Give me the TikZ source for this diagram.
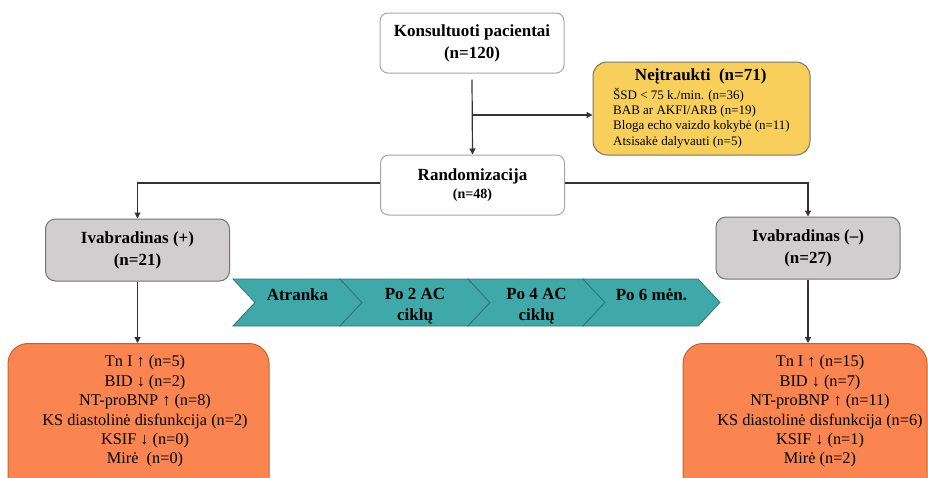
\documentclass[tikz,border=0pt]{standalone}
\usepackage{fontspec}
\setmainfont{Liberation Serif}
\usetikzlibrary{arrows.meta}
\definecolor{boxgray}{HTML}{D0CECE}
\definecolor{boxyellow}{HTML}{F8CF5A}
\definecolor{boxorange}{HTML}{FA8550}
\definecolor{edgeorange}{HTML}{C4622D}
\definecolor{phaseteal}{HTML}{3FA9A9}
\definecolor{edgeteal}{HTML}{2C7777}
\tikzset{
    flow/.style = {line width = 1.2pt, draw = black!80, -{Triangle[length = 6pt, width = 6pt]}},
    plainbox/.style = {draw = black!35, line width = 1pt, rounded corners = 8pt,
        minimum width = 184pt, minimum height = 60pt, align = center,
        font = \fontsize{17}{22}\selectfont\bfseries},
    groupbox/.style = {plainbox, draw = black!55, fill = boxgray, rounded corners = 10pt, minimum height = 62pt},
    resultbox/.style = {draw = edgeorange, fill = boxorange, line width = 1pt, rounded corners = 20pt},
    resulttext/.style = {align = center, font = \fontsize{16.3}{19.4}\selectfont},
    phase/.style = {draw = edgeteal, fill = phaseteal, line width = 0.8pt},
    phasetext/.style = {anchor = north, inner sep = 0pt, align = center, font = \fontsize{17}{21}\selectfont\bfseries}
}
\begin{document}
\begin{tikzpicture}[x = 1pt, y = -1pt]
        \useasboundingbox (0,0) rectangle (928,477);
        \clip (0,0) rectangle (928,477);
        \node[plainbox] (konsult) at (472,43) {Konsultuoti pacientai\\(n=120)};
        \node[draw = black!55, fill = boxyellow, line width = 1pt, rounded corners = 14pt,
            minimum width = 217pt, minimum height = 93pt, align = left,
            font = \fontsize{13}{15.3}\selectfont] (neitr) at (701.5,108.5)
            {\makebox[175pt]{\fontsize{17}{20}\selectfont\bfseries Neįtraukti\ \ (n=71)}\\[3pt]
             ŠSD < 75 k./min. (n=36)\\
             BAB ar AKFI/ARB (n=19)\\
             Bloga echo vaizdo kokybė (n=11)\\
             Atsisakė dalyvauti (n=5)};
        \node[plainbox] (random) at (472.5,185) {Randomizacija\\[-4pt]{\fontsize{14}{16}\selectfont (n=48)}};
        \node[groupbox] (ivplus) at (137.5,250) {Ivabradinas (+)\\(n=21)};
        \node[groupbox] (ivminus) at (808,248) {Ivabradinas (--)\\(n=27)};
        \node[resultbox, anchor = north, minimum width = 261pt, minimum height = 170pt] (resplus) at (138.5,343) {};
        \node[resultbox, anchor = north, minimum width = 244pt, minimum height = 170pt] (resminus) at (805,343) {};
        \node[resulttext] (plustext) at (145,411.5)
            {Tn I ↑ (n=5)\\BID ↓ (n=2)\\NT-proBNP ↑ (n=8)\\KS diastolinė disfunkcija (n=2)\\KSIF ↓ (n=0)\\Mirė\ \ (n=0)};
        \node[resulttext] (minustext) at (820,411.5)
            {Tn I ↑ (n=15)\\BID ↓ (n=7)\\NT-proBNP ↑ (n=11)\\KS diastolinė disfunkcija (n=6)\\KSIF ↓ (n=1)\\Mirė (n=2)};
        \foreach \a/\b/\t [count = \i] in {233/340/Atranka, 340/468/{Po 2 AC\\ciklų}, 468/583/{Po 4 AC\\ciklų}, 583/698/{Po 6 mėn.}} {
            \draw[phase] (\a,279) -- (\b,279) -- (\b+22,302.5) -- (\b,326) -- (\a,326) -- (\a+22,302.5) -- cycle;
            \node[phasetext] (phase\i) at ({(\a+\b)/2+11},288) {\t};
        }
        \coordinate (split) at (472,115);
        \draw[flow] ([yshift = -6pt]konsult.south) -- (random.north);
        \draw[flow] (split) -- (split -| neitr.west);
        \draw[flow] ([yshift = 2pt]random.west) -| (ivplus.north);
        \draw[flow] ([yshift = 2pt]random.east) -| (ivminus.north);
        \draw[flow] (ivplus.south) -- (ivplus.south |- resplus.north);
        \draw[flow] (ivminus.south) -- (ivminus.south |- resminus.north);
    \end{tikzpicture}
\end{document}
